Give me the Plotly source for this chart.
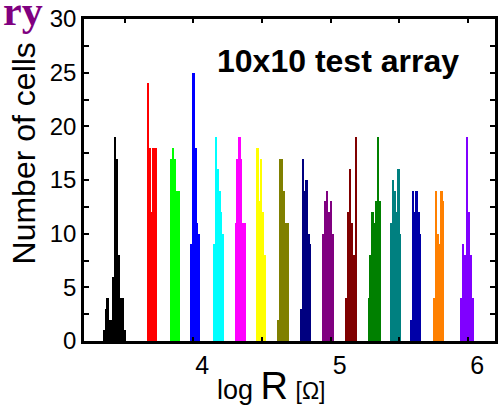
import plotly.graph_objects as go

# Histogram bin width in log10(R)
BIN_W = 0.0135

# Resistance states of the 10x10 array: first bin edge (log R) and cell counts
starts = [3.345, 3.665, 3.834, 3.983, 4.1445, 4.3035, 4.462, 4.614,
          4.778, 4.942, 5.109, 5.272, 5.4335, 5.579, 5.7465, 5.946]
counts = [
    [1, 3, 4, 2, 2, 6, 19, 17, 8, 4, 4, 1],
    [24, 18, 12, 18, 18],
    [17, 18, 17, 14, 14],
    [9, 25, 18, 11, 10],
    [9, 19, 16, 14, 12, 10],
    [11, 17, 19, 17, 11, 11],
    [18, 13, 17, 12, 8],
    [2, 17, 17, 14, 11, 11],
    [3, 17, 14, 15, 10, 9],
    [10, 13, 14, 12, 13, 10],
    [4, 12, 16, 11, 8, 19],
    [4, 8, 12, 11, 13, 19, 13],
    [11, 15, 14, 12, 16, 10],
    [2, 14, 12, 14, 12, 10],
    [4, 14, 10, 9, 14, 13],
    [4, 9, 8, 19, 12, 8, 4],
]
colors = ["#000000", "#ff0000", "#00ff00", "#0000ff", "#00ffff", "#ff00ff",
          "#ffff00", "#808000", "#000080", "#800080", "#800000", "#008000",
          "#008080", "#0000a8", "#ff8000", "#8000ff"]

fig = go.Figure()
for x0, c, col in zip(starts, counts, colors):
    xs = [x0 + (i + 0.5) * BIN_W for i in range(len(c))]
    fig.add_trace(go.Bar(
        x=xs, y=c, width=BIN_W,
        marker=dict(color=col, line=dict(width=0)),
        showlegend=False,
    ))

fig.update_layout(
    width=503, height=410,
    margin=dict(l=84, r=5, t=7, b=69),
    paper_bgcolor="white", plot_bgcolor="white",
    barmode="overlay", bargap=0,
    font=dict(family="Liberation Sans, Arial, sans-serif", color="black"),
)
fig.update_xaxes(
    range=[3.205, 6.195], tickvals=[4, 5, 6], ticktext=["4", "5", "6"],
    ticks="inside", ticklen=4, tickwidth=2, tickcolor="black",
    minor=dict(dtick=0.5, tick0=0, ticks="inside", ticklen=4, tickwidth=2, tickcolor="black"),
    showline=True, linecolor="black", linewidth=2.5, mirror="allticks",
    showgrid=False, zeroline=False,
    tickfont=dict(size=25), ticklabelshift=9, ticklabelstandoff=0,
)
fig.update_yaxes(
    range=[0, 30], dtick=5, tick0=0,
    ticks="inside", ticklen=5, tickwidth=2, tickcolor="black",
    minor=dict(dtick=2.5, tick0=0, ticks="inside", ticklen=5, tickwidth=2, tickcolor="black"),
    showline=True, linecolor="black", linewidth=2.5, mirror="allticks",
    showgrid=False, zeroline=False,
    tickfont=dict(size=24), ticklabeloverflow="allow",
)

fig.add_annotation(
    text="<b>10x10 test array</b>", xref="paper", yref="paper",
    x=(340 - 84) / 414, y=(341 - 51) / 334, xanchor="center", yanchor="middle",
    showarrow=False, font=dict(size=32, color="black"),
)
fig.add_annotation(
    text="Number of cells", textangle=-90, xref="paper", yref="paper",
    x=(24 - 84) / 414, y=(341 - 146) / 334, xanchor="center", yanchor="middle",
    showarrow=False, font=dict(size=32, color="black"),
)
fig.add_annotation(
    text="log <span style='font-size:38px'>R</span> <span style='font-size:23px'>[Ω]</span>",
    xref="paper", yref="paper",
    x=(273 - 84) / 414, y=(341 - 388) / 334, xanchor="center", yanchor="middle",
    showarrow=False, font=dict(size=27, color="black"),
)
fig.add_annotation(
    text="<b>ry</b>", xref="paper", yref="paper",
    x=(0 - 84) / 414, y=1, xanchor="left", yanchor="middle", yshift=8,
    showarrow=False, font=dict(size=42, color="#800080", family="Liberation Serif, Times New Roman, serif"),
)

fig.write_html("out.html")
